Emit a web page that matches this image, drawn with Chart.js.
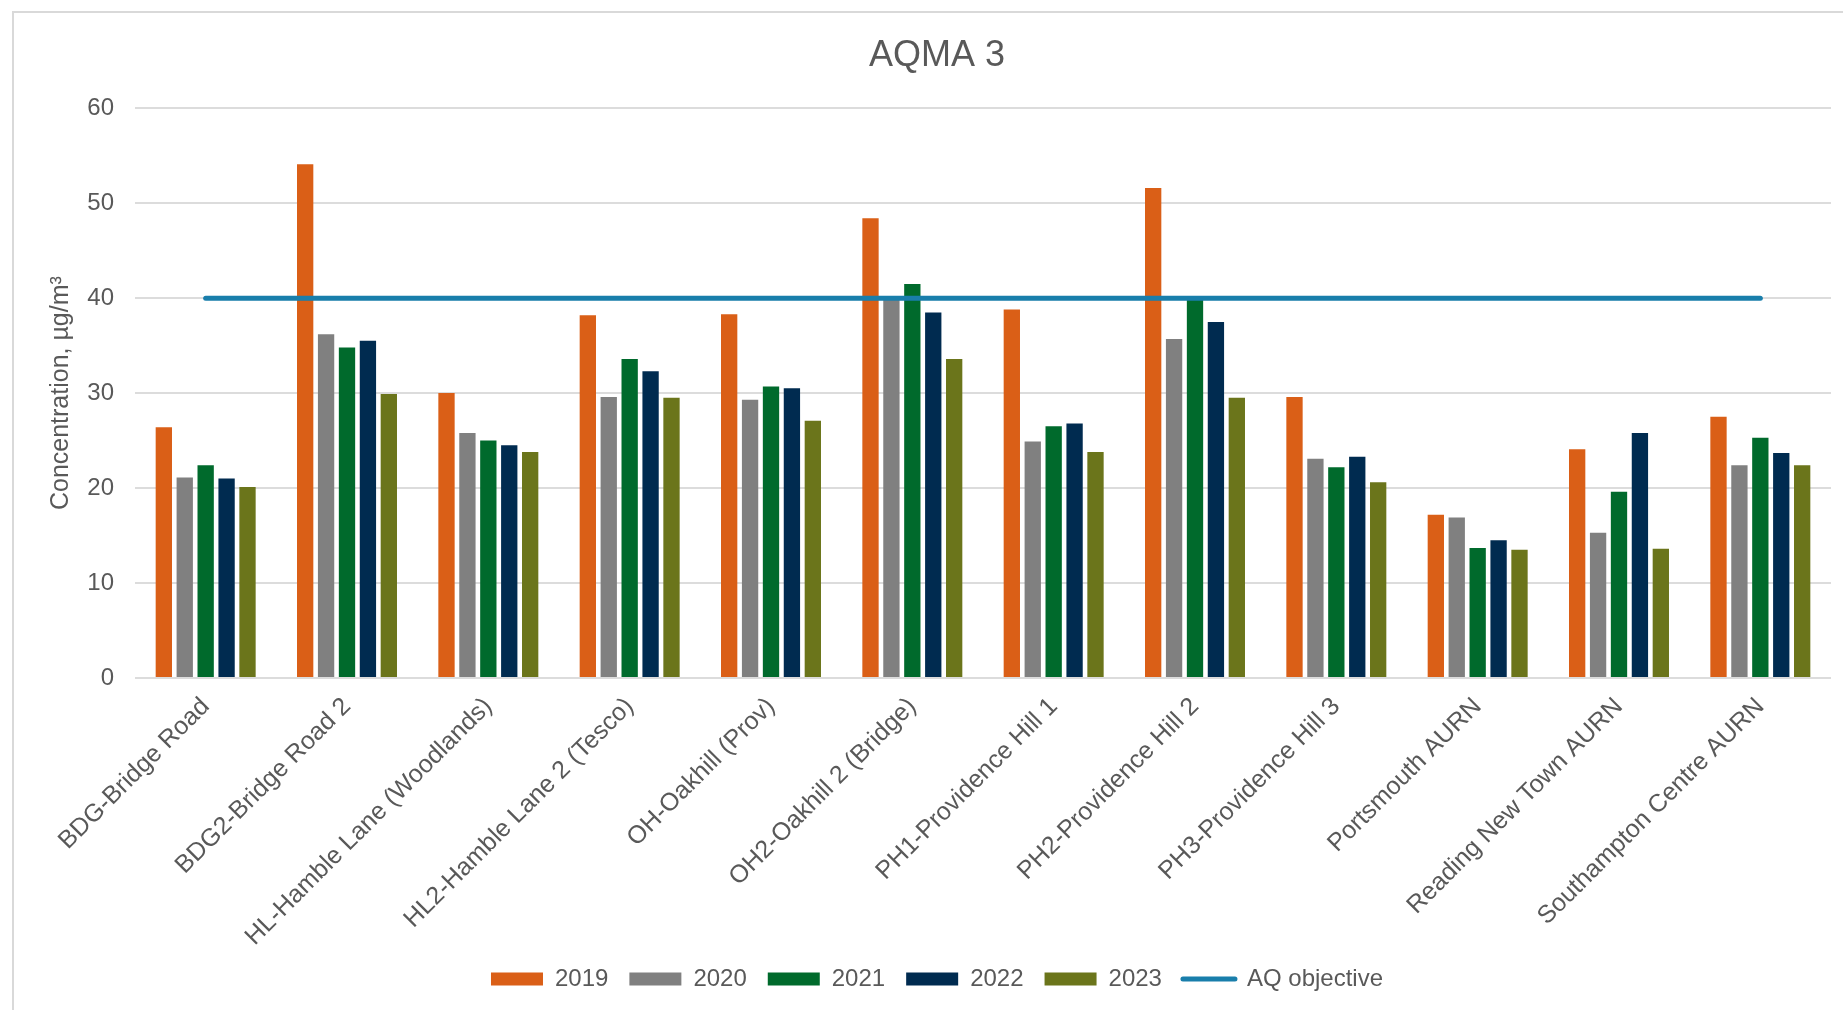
<!DOCTYPE html>
<html>
<head>
<meta charset="utf-8">
<title>AQMA 3</title>
<script src="https://cdn.jsdelivr.net/npm/chart.js@4/dist/chart.umd.min.js"></script>
<style>
  html, body { margin: 0; padding: 0; background: #fff; overflow: hidden; }
  canvas { display: block; }
</style>
</head>
<body>
<canvas id="aqma" width="1843" height="1010"></canvas>
<script>
const sites = [
    "BDG-Bridge Road", "BDG2-Bridge Road 2", "HL-Hamble Lane (Woodlands)",
    "HL2-Hamble Lane 2 (Tesco)", "OH-Oakhill (Prov)", "OH2-Oakhill 2 (Bridge)",
    "PH1-Providence Hill 1", "PH2-Providence Hill 2", "PH3-Providence Hill 3",
    "Portsmouth AURN", "Reading New Town AURN", "Southampton Centre AURN"
];
const years = ["2019", "2020", "2021", "2022", "2023"];
const v2019 = [26.4, 54.1, 30.0, 38.2, 38.3, 48.4, 38.8, 51.6, 29.6, 17.2, 24.1, 27.5];
const v2020 = [21.1, 36.2, 25.8, 29.6, 29.3, 40.0, 24.9, 35.7, 23.1, 16.9, 15.3, 22.4];
const v2021 = [22.4, 34.8, 25.0, 33.6, 30.7, 41.5, 26.5, 39.8, 22.2, 13.7, 19.6, 25.3];
const v2022 = [21.0, 35.5, 24.5, 32.3, 30.5, 38.5, 26.8, 37.5, 23.3, 14.5, 25.8, 23.7];
const v2023 = [20.1, 29.9, 23.8, 29.5, 27.1, 33.6, 23.8, 29.5, 20.6, 13.5, 13.6, 22.4];
const objectiveLabel = "AQ objective";
const objective = [40, 40, 40, 40, 40, 40, 40, 40, 40, 40, 40, 40];
const yTicks = [0, 10, 20, 30, 40, 50, 60];

const colores = ["#DA5F17", "#808080", "#006A2C", "#002B50", "#6B751B"];
const colorObjetivo = "#197EAB";
const gris = "#595959";
const fuente = "'Liberation Sans', Arial, sans-serif";

// marco gris claro del grafico (solo arriba e izquierda se ven)
const marco = {
    id: "marco",
    beforeDraw(chart) {
        const ctx = chart.ctx;
        ctx.save();
        ctx.fillStyle = "#fff";
        ctx.fillRect(0, 0, chart.width, chart.height);
        ctx.strokeStyle = "#d9d9d9";
        ctx.lineWidth = 2;
        ctx.beginPath();
        ctx.moveTo(13, chart.height + 5);
        ctx.lineTo(13, 12);
        ctx.lineTo(chart.width + 5, 12);
        ctx.stroke();
        ctx.restore();
    }
};

const valores = [v2019, v2020, v2021, v2022, v2023];
const datasets = years.map((anio, i) => ({
    type: "bar",
    label: anio,
    data: valores[i],
    backgroundColor: colores[i],
    borderWidth: 0,
    categoryPercentage: 0.74,
    barPercentage: 0.78,
    order: 1
}));
datasets.push({
    type: "line",
    label: objectiveLabel,
    data: objective,
    borderColor: colorObjetivo,
    backgroundColor: colorObjetivo,
    borderWidth: 5,
    borderCapStyle: "round",
    pointRadius: 0,
    fill: false,
    order: 0
});

const ctx = document.getElementById("aqma").getContext("2d");
const grafico = new Chart(ctx, {
    data: { labels: sites, datasets: datasets },
    plugins: [marco],
    options: {
        responsive: false,
        animation: false,
        layout: { padding: { top: 12, left: 43, right: 12, bottom: 9 } },
        plugins: {
            tooltip: { enabled: false },
            title: {
                display: true,
                text: "AQMA 3",
                color: gris,
                font: { family: fuente, size: 36, weight: "normal" },
                padding: { top: 22, bottom: 31 }
            },
            legend: {
                position: "bottom",
                labels: {
                    color: gris,
                    font: { family: fuente, size: 24 },
                    usePointStyle: true,
                    pointStyleWidth: 52,
                    boxHeight: 13,
                    padding: 21,
                    sort: (a, b) => a.datasetIndex - b.datasetIndex,
                    generateLabels(chart) {
                        const items = Chart.defaults.plugins.legend.labels.generateLabels(chart);
                        items.forEach(item => {
                            const ds = chart.data.datasets[item.datasetIndex];
                            if (ds.type === "line") {
                                item.pointStyle = "line";
                                item.strokeStyle = colorObjetivo;
                                item.lineWidth = 5;
                                item.lineCap = "round";
                            } else {
                                item.pointStyle = "rect";
                                item.lineWidth = 0;
                            }
                        });
                        return items;
                    }
                }
            }
        },
        scales: {
            x: {
                grid: { display: false },
                border: { display: false },
                ticks: {
                    color: gris,
                    font: { family: fuente, size: 25 },
                    minRotation: 45,
                    maxRotation: 45,
                    autoSkip: false,
                    padding: 6
                },
                afterFit(scale) { scale.height = 268; }
            },
            y: {
                min: 0,
                max: 60,
                afterBuildTicks(scale) { scale.ticks = yTicks.map(v => ({ value: v })); },
                grid: { color: "#dcdcdc", lineWidth: 2, drawTicks: false },
                border: { display: false },
                ticks: {
                    color: gris,
                    font: { family: fuente, size: 24 },
                    padding: 21
                },
                title: {
                    display: true,
                    text: "Concentration, µg/m³",
                    color: gris,
                    font: { family: fuente, size: 25 },
                    padding: { top: 3, bottom: 0 }
                },
                afterFit(scale) { scale.width = 92; }
            }
        }
    }
});
</script>
</body>
</html>
